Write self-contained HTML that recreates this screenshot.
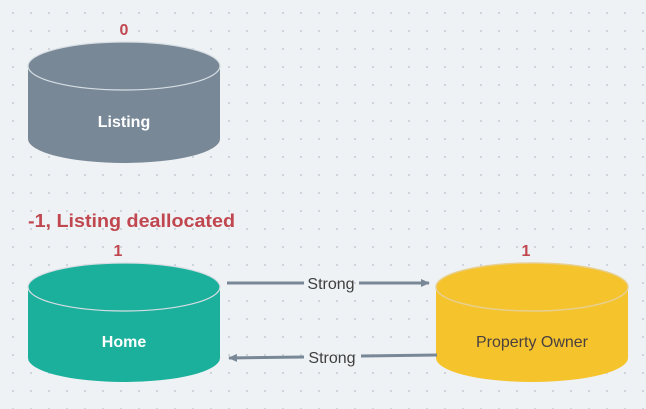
<!DOCTYPE html>
<html><head><meta charset="utf-8"><style>
html,body{margin:0;padding:0;}
body{width:646px;height:409px;overflow:hidden;background-color:#eff2f5;
background-image:radial-gradient(circle,#c9d0d8 0.9px,transparent 1.2px);background-size:18px 18px;background-position:4px 4px;}
svg{position:absolute;left:0;top:0;}
text{font-family:"Liberation Sans",sans-serif;}
</style></head><body>
<svg width="646" height="409" viewBox="0 0 646 409">
<defs>
<marker id="ah" markerWidth="10" markerHeight="10" refX="8" refY="5" orient="auto" markerUnits="userSpaceOnUse">
<path d="M0,1 L9,5 L0,9 Z" fill="#788897"/></marker>
</defs>
<path d="M28,66 L28,139 A96,24 0 0 0 220,139 L220,66 Z" fill="#788897"/>
<ellipse cx="124" cy="66" rx="96" ry="24" fill="#788897" stroke="#d6dde3" stroke-width="1.2"/>
<text x="124" y="127" text-anchor="middle" font-size="16" fill="#fff" font-weight="bold">Listing</text>
<text x="124" y="35" text-anchor="middle" font-size="16" fill="#c0474f" font-weight="bold">0</text>
<text x="28" y="227" font-size="18" fill="#c0474f" font-weight="bold" textLength="207" lengthAdjust="spacingAndGlyphs">-1, Listing deallocated</text>
<path d="M28,287 L28,358 A96,24 0 0 0 220,358 L220,287 Z" fill="#1bb09c"/>
<ellipse cx="124" cy="287" rx="96" ry="24" fill="#1bb09c" stroke="#d6dde3" stroke-width="1.2"/>
<text x="124" y="347" text-anchor="middle" font-size="16" fill="#fff" font-weight="bold">Home</text>
<text x="118" y="256" text-anchor="middle" font-size="16" fill="#c0474f" font-weight="bold">1</text>
<path d="M436,287 L436,358 A96,24 0 0 0 628,358 L628,287 Z" fill="#f5c32c"/>
<ellipse cx="532" cy="287" rx="96" ry="24" fill="#f5c32c" stroke="#e8cf8e" stroke-width="1.5"/>
<text x="532" y="347" text-anchor="middle" font-size="16" fill="#4a4040">Property Owner</text>
<text x="526" y="256" text-anchor="middle" font-size="16" fill="#c0474f" font-weight="bold">1</text>
<line x1="227" y1="283" x2="304" y2="283" stroke="#788897" stroke-width="3"/>
<line x1="359" y1="283" x2="429" y2="283" stroke="#788897" stroke-width="3" marker-end="url(#ah)"/>
<text x="331" y="289" text-anchor="middle" font-size="16" fill="#3f3f3f">Strong</text>
<line x1="437" y1="355" x2="361" y2="356" stroke="#788897" stroke-width="3"/>
<line x1="304" y1="357" x2="229" y2="358" stroke="#788897" stroke-width="3" marker-end="url(#ah)"/>
<text x="332" y="363" text-anchor="middle" font-size="16" fill="#3f3f3f">Strong</text>
</svg>
</body></html>
